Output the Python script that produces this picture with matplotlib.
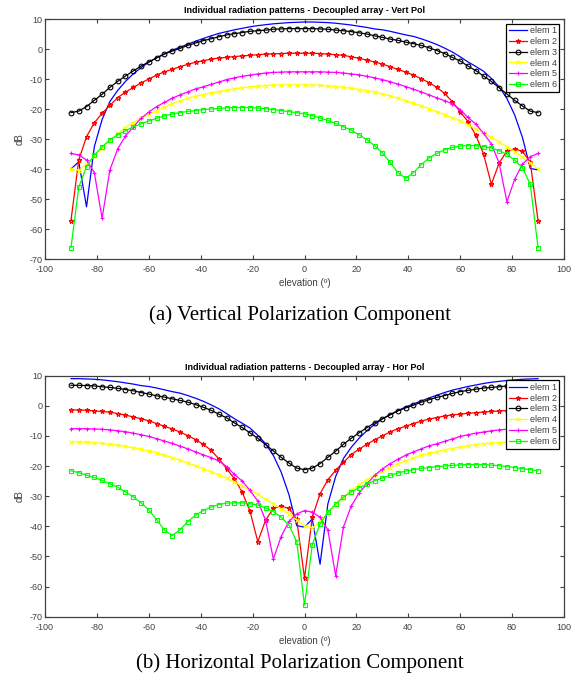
import numpy as np
import matplotlib
matplotlib.use('Agg')
import matplotlib.pyplot as plt

plt.rcParams['font.family'] = ['Liberation Sans', 'DejaVu Sans']
plt.rcParams['axes.unicode_minus'] = False

# elevation samples (deg)
elev = np.arange(-90, 91, 3)

# Vertical polarization (dB)
v_elem1 = [-40.0, -37.6, -52.6, -32.6, -23.5, -17.5, -13.8, -10.8, -8.3, -6.2,
           -4.4, -2.9, -1.6, -0.4, 0.6, 1.6, 2.6, 3.5, 4.4, 5.2,
           5.8, 6.4, 6.9, 7.4, 7.8, 8.1, 8.4, 8.6, 8.8, 8.9, 9.0,
           9.0, 8.9, 8.8, 8.6, 8.3, 8.0, 7.6, 7.2, 6.7, 6.4,
           5.9, 5.3, 4.7, 4.2, 3.4, 2.5, 1.5, 0.3, -1.0, -2.6,
           -4.3, -5.8, -7.4, -9.8, -12.6, -16.5, -22.0, -29.5, -39.8, -40.3]
v_elem2 = [-57.2, -37.0, -29.2, -24.6, -21.4, -18.8, -16.2, -14.4, -12.8, -11.3,
           -10.0, -8.7, -7.6, -6.8, -5.9, -5.1, -4.4, -3.9, -3.4, -3.0,
           -2.8, -2.5, -2.3, -2.1, -1.9, -1.7, -1.6, -1.5, -1.4, -1.4, -1.4,
           -1.4, -1.5, -1.7, -1.9, -2.1, -2.6, -3.1, -3.7, -4.3, -5.0,
           -5.9, -6.8, -7.7, -8.7, -9.9, -11.2, -12.8, -14.8, -17.6, -20.9,
           -24.2, -28.7, -35.0, -45.1, -38.0, -34.0, -33.3, -34.1, -37.7, -57.2]
v_elem3 = [-21.2, -20.7, -19.2, -17.1, -15.1, -12.8, -10.8, -9.0, -7.3, -5.7,
           -4.3, -3.0, -1.7, -0.7, 0.2, 1.2, 2.0, 2.8, 3.4, 4.1,
           4.7, 5.1, 5.5, 5.9, 6.1, 6.3, 6.6, 6.7, 6.8, 6.8, 6.8,
           6.8, 6.7, 6.6, 6.3, 6.1, 5.8, 5.4, 5.0, 4.4, 3.9,
           3.3, 2.9, 2.3, 1.8, 1.2, 0.4, -0.5, -1.5, -2.8, -4.0,
           -5.7, -7.2, -9.0, -10.8, -12.9, -15.0, -17.1, -19.0, -20.7, -21.2]
v_elem4 = [-40.0, -40.5, -38.4, -35.7, -32.9, -30.5, -28.1, -26.2, -24.5, -23.0,
           -21.8, -20.6, -19.3, -18.2, -17.3, -16.4, -15.8, -15.2, -14.6, -14.2,
           -13.7, -13.3, -12.9, -12.6, -12.4, -12.2, -12.1, -12.0, -12.0, -12.0, -12.0,
           -12.0, -12.1, -12.3, -12.5, -12.8, -13.1, -13.5, -13.9, -14.4, -15.0,
           -15.6, -16.4, -17.2, -18.1, -19.0, -19.9, -20.9, -21.9, -22.9, -24.0,
           -25.3, -26.6, -28.0, -29.4, -31.0, -32.6, -34.2, -35.9, -37.9, -40.0]
v_elem5 = [-34.8, -35.3, -37.0, -41.2, -56.4, -40.3, -33.3, -29.0, -26.0, -23.1,
           -21.0, -19.2, -17.8, -16.4, -15.3, -14.3, -13.3, -12.6, -11.8, -11.0,
           -10.2, -9.6, -9.1, -8.7, -8.3, -8.0, -7.8, -7.7, -7.6, -7.6, -7.6,
           -7.6, -7.6, -7.7, -7.8, -8.0, -8.3, -8.6, -9.1, -9.6, -10.2,
           -10.9, -11.7, -12.5, -13.4, -14.3, -15.3, -16.3, -17.2, -18.3, -20.2,
           -22.8, -25.0, -28.1, -31.6, -38.0, -50.9, -43.4, -38.4, -35.9, -34.8]
v_elem6 = [-66.2, -46.1, -39.2, -35.4, -32.6, -30.3, -28.6, -27.2, -26.0, -24.9,
           -24.0, -23.1, -22.3, -21.7, -21.2, -20.8, -20.5, -20.2, -20.0, -19.8,
           -19.6, -19.5, -19.5, -19.5, -19.7, -19.9, -20.2, -20.5, -20.9, -21.2, -21.6,
           -22.2, -23.0, -23.8, -24.8, -25.9, -27.0, -28.6, -30.2, -32.2, -34.6,
           -37.8, -41.2, -43.1, -41.2, -38.5, -36.3, -34.8, -33.6, -32.8, -32.3,
           -32.2, -32.2, -32.5, -33.0, -33.9, -35.1, -37.0, -39.6, -45.1, -66.2]

# Horizontal polarization (dB)
h_elem1 = [9.0, 9.0, 8.9, 8.8, 8.6, 8.3, 8.0, 7.6, 7.2, 6.7,
           6.4, 5.9, 5.3, 4.7, 4.2, 3.4, 2.5, 1.5, 0.3, -1.0,
           -2.6, -4.3, -5.8, -7.4, -9.8, -12.6, -16.5, -22.0, -29.5, -39.8, -40.3,
           -37.6, -52.6, -32.6, -23.5, -17.5, -13.8, -10.8, -8.3, -6.2, -4.4,
           -2.9, -1.6, -0.4, 0.6, 1.6, 2.6, 3.5, 4.4, 5.2, 5.8,
           6.4, 6.9, 7.4, 7.8, 8.1, 8.4, 8.6, 8.8, 8.9, 9.0]
h_elem2 = [-1.4, -1.4, -1.5, -1.7, -1.9, -2.1, -2.6, -3.1, -3.7, -4.3,
           -5.0, -5.9, -6.8, -7.7, -8.7, -9.9, -11.2, -12.8, -14.8, -17.6,
           -20.9, -24.2, -28.7, -35.0, -45.1, -38.0, -34.0, -33.3, -34.1, -37.7, -57.2,
           -37.0, -29.2, -24.6, -21.4, -18.8, -16.2, -14.4, -12.8, -11.3, -10.0,
           -8.7, -7.6, -6.8, -5.9, -5.1, -4.4, -3.9, -3.4, -3.0, -2.8,
           -2.5, -2.3, -2.1, -1.9, -1.7, -1.6, -1.5, -1.4, -1.4, -1.4]
h_elem3 = [6.8, 6.8, 6.7, 6.6, 6.3, 6.1, 5.8, 5.4, 5.0, 4.4,
           3.9, 3.3, 2.9, 2.3, 1.8, 1.2, 0.4, -0.5, -1.5, -2.8,
           -4.0, -5.7, -7.2, -9.0, -10.8, -12.9, -15.0, -17.1, -19.0, -20.7, -21.2,
           -20.7, -19.2, -17.1, -15.1, -12.8, -10.8, -9.0, -7.3, -5.7, -4.3,
           -3.0, -1.7, -0.7, 0.2, 1.2, 2.0, 2.8, 3.4, 4.1, 4.7,
           5.1, 5.5, 5.9, 6.1, 6.3, 6.6, 6.7, 6.8, 6.8, 6.8]
h_elem4 = [-12.0, -12.0, -12.1, -12.3, -12.5, -12.8, -13.1, -13.5, -13.9, -14.4,
           -15.0, -15.6, -16.4, -17.2, -18.1, -19.0, -19.9, -20.9, -21.9, -22.9,
           -24.0, -25.3, -26.6, -28.0, -29.4, -31.0, -32.6, -34.2, -35.9, -37.9, -40.0,
           -40.5, -38.4, -35.7, -32.9, -30.5, -28.1, -26.2, -24.5, -23.0, -21.8,
           -20.6, -19.3, -18.2, -17.3, -16.4, -15.8, -15.2, -14.6, -14.2, -13.7,
           -13.3, -12.9, -12.6, -12.4, -12.2, -12.1, -12.0, -12.0, -12.0, -12.0]
h_elem5 = [-7.6, -7.6, -7.6, -7.7, -7.8, -8.0, -8.3, -8.6, -9.1, -9.6,
           -10.2, -10.9, -11.7, -12.5, -13.4, -14.3, -15.3, -16.3, -17.2, -18.3,
           -20.2, -22.8, -25.0, -28.1, -31.6, -38.0, -50.9, -43.4, -38.4, -35.9, -34.8,
           -35.3, -37.0, -41.2, -56.4, -40.3, -33.3, -29.0, -26.0, -23.1, -21.0,
           -19.2, -17.8, -16.4, -15.3, -14.3, -13.3, -12.6, -11.8, -11.0, -10.2,
           -9.6, -9.1, -8.7, -8.3, -8.0, -7.8, -7.7, -7.6, -7.6, -7.6]
h_elem6 = [-21.6, -22.2, -23.0, -23.8, -24.8, -25.9, -27.0, -28.6, -30.2, -32.2,
           -34.6, -37.8, -41.2, -43.1, -41.2, -38.5, -36.3, -34.8, -33.6, -32.8,
           -32.3, -32.2, -32.2, -32.5, -33.0, -33.9, -35.1, -37.0, -39.6, -45.1, -66.2,
           -46.1, -39.2, -35.4, -32.6, -30.3, -28.6, -27.2, -26.0, -24.9, -24.0,
           -23.1, -22.3, -21.7, -21.2, -20.8, -20.5, -20.2, -20.0, -19.8, -19.6,
           -19.5, -19.5, -19.5, -19.7, -19.9, -20.2, -20.5, -20.9, -21.2, -21.6]

labels = ['elem 1', 'elem 2', 'elem 3', 'elem 4', 'elem 5', 'elem 6']
styles = [('#0000ff', None), ('#ff0000', '*'), ('#000000', 'o'),
          ('#ffff00', 'x'), ('#ff00ff', '+'), ('#00ff00', 's')]

fig = plt.figure(figsize=(5.8, 6.84), dpi=100)
gray = '#404040'


def draw(ax, series, title):
    for y, lab, (c, m) in zip(series, labels, styles):
        ax.plot(elev, y, color=c, marker=m, markersize=3.4, markeredgewidth=0.8,
                markerfacecolor='none', linewidth=0.9, label=lab)
    ax.set_xlim(-100, 100)
    ax.set_ylim(-70, 10)
    ax.set_xticks(np.arange(-100, 101, 20))
    ax.set_yticks(np.arange(-70, 11, 10))
    ax.tick_params(direction='in', top=True, right=True, length=3, width=0.8,
                   labelsize=6.5, colors=gray)
    ax.tick_params(axis='x', pad=4.5)
    ax.tick_params(axis='y', pad=2)
    for s in ax.spines.values():
        s.set_color(gray)
        s.set_linewidth(0.9)
    ax.set_title(title, fontsize=6.5, fontweight='bold', pad=4)
    ax.set_xlabel('elevation (º)', fontsize=7, color=gray, labelpad=3)
    ax.set_ylabel('dB', fontsize=7, color=gray, labelpad=3)
    leg = ax.legend(loc='upper right', fontsize=6.5, fancybox=False, framealpha=1,
                    edgecolor='black', borderaxespad=0.5, handlelength=2.0,
                    handletextpad=0.3, labelspacing=0.2, borderpad=0.3)
    leg.get_frame().set_linewidth(0.9)
    for t in leg.get_texts():
        t.set_color(gray)


ax1 = fig.add_axes([0.0776, 0.6213, 0.8948, 0.3509])
draw(ax1, [v_elem1, v_elem2, v_elem3, v_elem4, v_elem5, v_elem6],
     'Individual radiation patterns - Decoupled array - Vert Pol')

ax2 = fig.add_axes([0.0776, 0.0985, 0.8948, 0.3523])
draw(ax2, [h_elem1, h_elem2, h_elem3, h_elem4, h_elem5, h_elem6],
     'Individual radiation patterns - Decoupled array - Hor Pol')

fig.text(0.517, 0.540, '(a) Vertical Polarization Component', ha='center', va='center',
         fontsize=15, family='Liberation Serif')
fig.text(0.517, 0.030, '(b) Horizontal Polarization Component', ha='center', va='center',
         fontsize=15, family='Liberation Serif')

fig.savefig('out.png', dpi=100)
